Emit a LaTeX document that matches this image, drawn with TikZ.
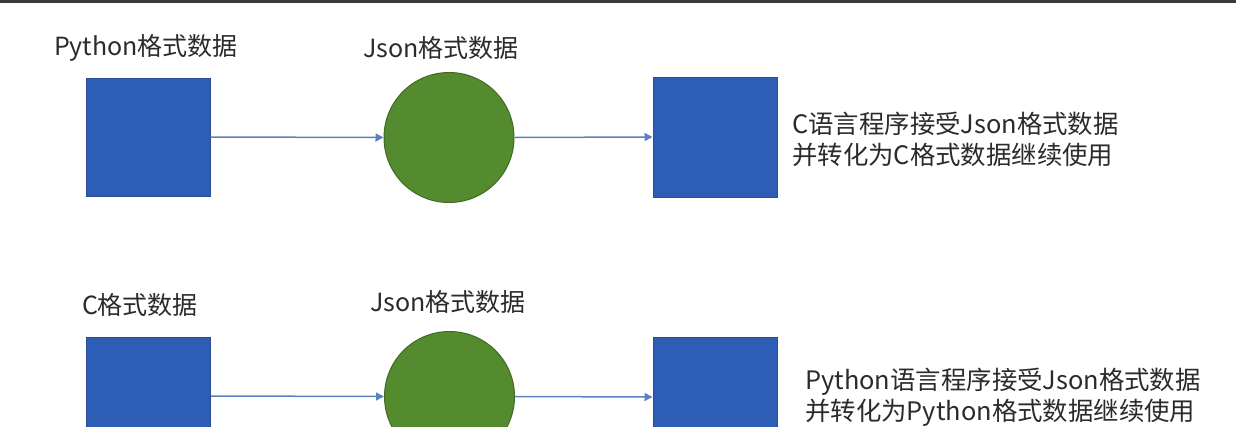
\documentclass[tikz,border=0pt]{standalone}
\usepackage{fontspec}
\newfontfamily\cjk{Noto Sans CJK SC}
\usetikzlibrary{arrows.meta}
\definecolor{sqfill}{HTML}{2E5DB5}
\definecolor{sqdraw}{HTML}{2A4C92}
\definecolor{cfill}{HTML}{558B2F}
\definecolor{cdraw}{HTML}{3F6A24}
\definecolor{arr}{HTML}{5A82C2}
\definecolor{txt}{HTML}{2B2B2B}
\definecolor{bar}{HTML}{3A3A3A}
\tikzset{
  sqbox/.style={rectangle, fill=sqfill, draw=sqdraw, line width=1pt, minimum width=124pt, minimum height=118pt, inner sep=0pt},
  jsoncirc/.style={circle, fill=cfill, draw=cdraw, line width=1pt, minimum size=130pt, inner sep=0pt},
  lbl/.style={text=txt, font=\cjk\fontsize{25}{30}\selectfont, inner sep=0pt},
  side/.style={text=txt, font=\cjk\fontsize{25.4}{31}\selectfont, align=left, anchor=west, inner sep=0pt},
  flow/.style={draw=arr, line width=1.5pt, -{Triangle[length=8pt,width=8pt]}}
}
\begin{document}
\begin{tikzpicture}[x=1pt,y=-1pt]
\useasboundingbox (0,0) rectangle (1236,426);
\clip (0,0) rectangle (1236,426);
\fill[white] (0,0) rectangle (1236,426);
\fill[bar] (0,0) rectangle (1236,2.5);
% row 1
\node[lbl] (l1) at (146,48) {Python格式数据};
\node[lbl] (l2) at (441,48) {Json格式数据};
\node[sqbox] (s1) at (148,137) {};
\node[jsoncirc] (c1) at (449,137.5) {};
\node[sqbox, minimum height=120pt] (s2) at (715,137) {};
\node[side] (t1) at (792,139) {C语言程序接受Json格式数据\\并转化为C格式数据继续使用};
\draw[flow] (s1.east) -- (c1.west);
\draw[flow] (c1.east) -- (s2.west);
% row 2
\node[lbl] (l3) at (140,305) {C格式数据};
\node[lbl] (l4) at (448,302) {Json格式数据};
\node[sqbox] (s3) at (148.5,396) {};
\node[jsoncirc] (c2) at (449.5,396.5) {};
\node[sqbox, minimum height=120pt] (s4) at (715,397) {};
\node[side] (t2) at (805,397) {Python语言程序接受Json格式数据\\并转化为Python格式数据继续使用};
\draw[flow] (s3.east) -- (c2.west);
\draw[flow] (c2.east) -- (s4.west);
\end{tikzpicture}
\end{document}
